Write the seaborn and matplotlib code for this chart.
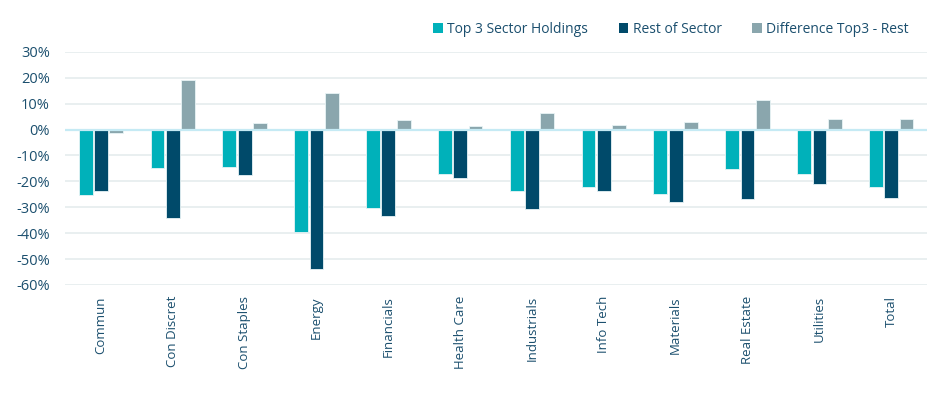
import matplotlib
matplotlib.use("Agg")
from matplotlib import pyplot as plt
from matplotlib.ticker import FuncFormatter
import pandas as pd
import seaborn as sns

sectors = ["Commun", "Con Discret", "Con Staples", "Energy", "Financials", "Health Care",
           "Industrials", "Info Tech", "Materials", "Real Estate", "Utilities", "Total"]
top3 = [-25.1, -14.9, -14.5, -39.7, -30.1, -17.1, -23.9, -22.0, -24.9, -15.2, -17.1, -22.0]
rest = [-23.6, -34.2, -17.4, -54.0, -33.5, -18.6, -30.5, -23.9, -28.0, -26.9, -21.2, -26.5]
diff = [-1.3, 19.0, 2.6, 14.1, 3.6, 1.4, 6.4, 1.9, 3.0, 11.3, 3.9, 4.1]
series = ["Top 3 Sector Holdings", "Rest of Sector", "Difference Top3 - Rest"]
colors = ["#00B1BA", "#004A6A", "#8AA6AD"]
txt = "#1B4F6E"

df = pd.DataFrame({"sector": sectors * 3,
                   "series": [series[0]] * 12 + [series[1]] * 12 + [series[2]] * 12,
                   "value": top3 + rest + diff})

sns.set_style("white")
plt.rcParams["font.family"] = ["Open Sans", "DejaVu Sans"]

fig = plt.figure(figsize=(9.49, 3.93), dpi=100)
ax = fig.add_axes([0.0685, 0.275, 0.9085, 0.593])
sns.barplot(data=df, x="sector", y="value", hue="series", palette=colors, saturation=1,
            width=0.64, gap=0.1, edgecolor="#E8F4F6", linewidth=0.6, ax=ax)

ax.set_ylim(-60, 30)
ax.set_yticks(range(-60, 31, 10))
ax.yaxis.set_major_formatter(FuncFormatter(lambda v, p: f"{int(v)}%"))
ax.set_xlim(-0.5, len(sectors) - 0.5)
ax.grid(axis="y", color="#E5ECEE", linewidth=1.2)
ax.set_axisbelow(True)
ax.axhline(0, color="#C5EAF4", linewidth=1.6, zorder=1)
for s in ax.spines.values():
    s.set_visible(False)
ax.set_xlabel("")
ax.set_ylabel("")
ax.tick_params(axis="y", length=0, labelsize=10.5, labelcolor=txt, pad=11)
ax.tick_params(axis="x", length=0, labelsize=9.5, labelcolor=txt, pad=8)
plt.setp(ax.get_xticklabels(), rotation=90)

leg = ax.legend(loc="lower right", bbox_to_anchor=(0.985, 1.04), ncol=3, frameon=False,
                fontsize=10, handlelength=0.7, handleheight=0.7, handletextpad=0.3,
                columnspacing=2.2, borderaxespad=0)
for t in leg.get_texts():
    t.set_color(txt)
for h in leg.legend_handles:
    h.set_edgecolor("none")

fig.savefig("out.png", dpi=100)
